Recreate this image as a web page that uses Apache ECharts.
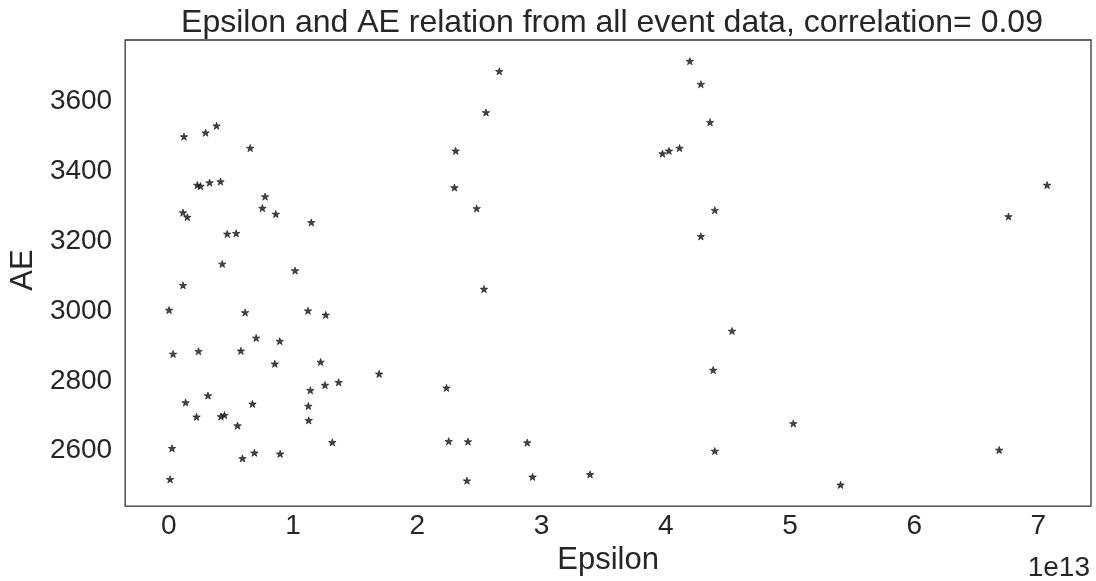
<!DOCTYPE html>
<html>
<head>
<meta charset="utf-8">
<title>Epsilon and AE</title>
<script src="https://cdn.jsdelivr.net/npm/echarts@6/dist/echarts.min.js"></script>
<style>
  html, body { margin: 0; padding: 0; background: #ffffff; }
  #chart { width: 1096px; height: 581px; }
</style>
</head>
<body>
<div id="chart"></div>
<script>
// Epsilon per event, in units of 1e13
const epsilon = [
  0.122, 0.296, 0.384, 0.655, 0.229, 0.255, 0.328, 0.416, 0.775, 0.753,
  0.861, 0.114, 0.149, 1.147, 0.470, 0.542, 0.430, 1.016, 0.114, 0.002,
  0.614, 1.120, 1.263, 0.703, 0.893, 0.034, 0.239, 0.580, 0.853, 1.222,
  1.139, 1.257, 1.367, 0.135, 0.315, 0.673, 0.223, 0.419, 0.448, 0.553,
  1.123, 1.126, 1.316, 0.026, 0.593, 0.689, 0.896, 0.010, 1.693, 2.660,
  2.553, 2.309, 2.299, 2.478, 2.537, 2.235, 2.253, 2.408, 2.885, 2.400,
  2.928, 3.391, 4.194, 4.283, 4.357, 3.974, 4.026, 4.111, 4.395, 4.283,
  4.534, 4.382, 5.027, 4.395, 5.407, 7.070, 6.759, 6.684
];
// AE index for the same events
const ae = [
  3500, 3511, 3531, 3467, 3361, 3358, 3368, 3371, 3328, 3295,
  3278, 3282, 3269, 3254, 3221, 3223, 3135, 3116, 3074, 3003,
  2996, 3001, 2989, 2923, 2914, 2877, 2885, 2886, 2849, 2854,
  2773, 2788, 2796, 2738, 2758, 2734, 2697, 2698, 2702, 2672,
  2728, 2687, 2624, 2607, 2578, 2594, 2591, 2518, 2820, 3687,
  3569, 3459, 3354, 3294, 3063, 2780, 2627, 2626, 2623, 2514,
  2525, 2532, 3716, 3650, 3541, 3451, 3459, 3467, 3289, 3214,
  2943, 2831, 2678, 2599, 2502, 3361, 3271, 2602
];
const xTicks = [0, 1, 2, 3, 4, 5, 6, 7];
const yTicks = [2600, 2800, 3000, 3200, 3400, 3600];
const correlation = '0.09';

// five-pointed star outline used as the marker
function starPath() {
  const parts = [];
  for (let i = 0; i < 10; i++) {
    const r = i % 2 ? 0.382 : 1;
    const a = -Math.PI / 2 + i * Math.PI / 5;
    parts.push((i ? 'L' : 'M') + (r * Math.cos(a)).toFixed(4) + ' ' + (r * Math.sin(a)).toFixed(4));
  }
  return 'path://' + parts.join(' ') + ' Z';
}

const points = epsilon.map((e, i) => [e, ae[i]]);

// 5% padding around the data range on both axes
function padded(arr) {
  const lo = Math.min(...arr), hi = Math.max(...arr), m = (hi - lo) * 0.05;
  return [lo - m, hi + m];
}
const [xMin, xMax] = padded(epsilon);
const [yMin, yMax] = padded(ae);

const FONT = '"Liberation Sans", Arial, sans-serif';
const TEXT = '#262626';

const chart = echarts.init(document.getElementById('chart'), null, { renderer: 'canvas' });
chart.setOption({
  animation: false,
  backgroundColor: '#ffffff',
  title: {
    text: 'Epsilon and AE relation from all event data, correlation= ' + correlation,
    left: 607, textAlign: 'center', top: 2,
    textStyle: { fontFamily: FONT, fontSize: 32, fontWeight: 'normal', color: TEXT }
  },
  grid: {
    left: 124, right: 5, top: 40, bottom: 73,
    show: true, borderColor: '#333333', borderWidth: 1.3, backgroundColor: '#ffffff'
  },
  xAxis: {
    type: 'value', min: xMin, max: xMax,
    name: 'Epsilon', nameLocation: 'middle', nameGap: 38,
    nameTextStyle: { fontFamily: FONT, fontSize: 31, color: TEXT },
    axisLine: { show: false }, axisTick: { show: false }, splitLine: { show: false },
    axisLabel: { customValues: xTicks, fontFamily: FONT, fontSize: 28, color: TEXT, margin: 6,
      formatter: v => String(Math.round(v)) }
  },
  yAxis: {
    type: 'value', min: yMin, max: yMax,
    name: 'AE', nameLocation: 'middle', nameGap: 83,
    nameTextStyle: { fontFamily: FONT, fontSize: 31, color: TEXT, padding: [0, 0, 0, 6] },
    axisLine: { show: false }, axisTick: { show: false }, splitLine: { show: false },
    axisLabel: { customValues: yTicks, fontFamily: FONT, fontSize: 28, color: TEXT, margin: 13,
      formatter: v => String(Math.round(v)) }
  },
  graphic: [{
    type: 'text', right: 6, top: 554,
    style: { text: '1e13', font: '28px ' + FONT, fill: TEXT }
  }],
  series: [{
    type: 'scatter',
    data: points,
    symbol: starPath(),
    symbolKeepAspect: true,
    symbolSize: 7.5,
    itemStyle: { color: '#151515', borderColor: '#151515', borderWidth: 0.8 }
  }]
});
</script>
</body>
</html>
